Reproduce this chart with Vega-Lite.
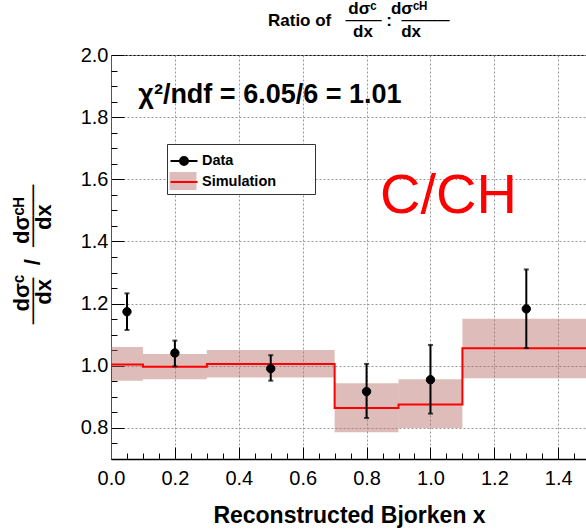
{
  "$schema": "https://vega.github.io/schema/vega-lite/v6.json",
  "width": 476,
  "height": 404,
  "autosize": {"type": "none"},
  "padding": {"left": 111, "top": 55, "right": 0, "bottom": 72},
  "background": "white",
  "config": {"view": {"stroke": "black", "strokeWidth": 1}, "font": "Liberation Sans"},
  "title": {
    "text": [
      "\u200b\u00a0\u00a0\u00a0\u00a0\u00a0\u00a0\u00a0\u00a0\u00a0\u00a0\u00a0\u00a0\u00a0\u00a0\u00a0\u00a0\u00a0dσᶜ\u00a0\u00a0\u00a0dσᶜᴴ",
      "Ratio of\u00a0\u00a0\u00a0───\u00a0:\u00a0\u00a0────",
      "\u200b\u00a0\u00a0\u00a0\u00a0\u00a0\u00a0\u00a0\u00a0\u00a0\u00a0\u00a0\u00a0\u00a0\u00a0\u00a0\u00a0\u00a0\u00a0dx\u00a0\u00a0\u00a0\u00a0\u00a0\u00a0dx"
    ],
    "font": "Liberation Sans",
    "fontWeight": "bold",
    "fontSize": 17,
    "lineHeight": 11.5,
    "anchor": "middle",
    "align": "left",
    "dx": -81,
    "dy": 13,
    "baseline": "alphabetic",
    "color": "black",
    "frame": "group"
  },
  "datasets": {
    "data": [
      {"x": 0.05, "y": 1.174, "lo": 1.115, "hi": 1.233},
      {"x": 0.2, "y": 1.041, "lo": 0.998, "hi": 1.081},
      {"x": 0.5, "y": 0.991, "lo": 0.952, "hi": 1.034},
      {"x": 0.8, "y": 0.917, "lo": 0.832, "hi": 1.006},
      {"x": 1.0, "y": 0.955, "lo": 0.846, "hi": 1.067},
      {"x": 1.3, "y": 1.183, "lo": 1.057, "hi": 1.31}
    ],
    "bins": [
      {"x_lo": 0.0, "x_hi": 0.1, "y": 1.004, "lo": 0.952, "hi": 1.06},
      {"x_lo": 0.1, "x_hi": 0.3, "y": 0.997, "lo": 0.957, "hi": 1.038},
      {"x_lo": 0.3, "x_hi": 0.7, "y": 1.006, "lo": 0.962, "hi": 1.051},
      {"x_lo": 0.7, "x_hi": 0.9, "y": 0.864, "lo": 0.786, "hi": 0.944},
      {"x_lo": 0.9, "x_hi": 1.1, "y": 0.875, "lo": 0.8, "hi": 0.957},
      {"x_lo": 1.1, "x_hi": 1.5, "y": 1.056, "lo": 0.96, "hi": 1.151}
    ],
    "line": [
      {"x": 0.0, "y": 0.7},
      {"x": 0.0, "y": 1.004},
      {"x": 0.1, "y": 0.997},
      {"x": 0.3, "y": 1.006},
      {"x": 0.7, "y": 0.864},
      {"x": 0.9, "y": 0.875},
      {"x": 1.1, "y": 1.056},
      {"x": 1.5, "y": 1.056}
    ],
    "labels": [{"chi": "χ²/ndf = 6.05/6 = 1.01", "tag": "C/CH"}]
  },
  "resolve": {"axis": {"x": "independent", "y": "independent"}},
  "layer": [
    {
      "data": {"name": "bins"},
      "mark": {"type": "rect", "clip": true},
      "encoding": {
        "x": {
          "field": "x_lo", "type": "quantitative",
          "scale": {"domain": [0, 1.49], "nice": false, "zero": false},
          "axis": {
            "orient": "bottom",
            "values": [0, 0.2, 0.4, 0.6, 0.8, 1.0, 1.2, 1.4],
            "tickSize": -12,
            "format": ".1f",
            "grid": true,
            "gridDash": [2, 2],
            "gridColor": "#999999",
            "tickColor": "black",
            "domainColor": "black",
            "domainWidth": 1.5,
            "labelFont": "Liberation Sans",
            "labelFontSize": 20,
            "labelColor": "black",
            "labelPadding": 21,
            "labelFlush": false,
            "labelOverlap": false,
            "title": "Reconstructed Bjorken x",
            "titleFont": "Liberation Sans",
            "titleFontWeight": "bold",
            "titleFontSize": 23,
            "titleColor": "black",
            "titleY": 63,
            "titleBaseline": "alphabetic"
          }
        },
        "x2": {"field": "x_hi"},
        "y": {
          "field": "lo", "type": "quantitative",
          "scale": {"domain": [0.7, 2.0], "nice": false, "zero": false},
          "axis": {
            "orient": "left",
            "values": [0.8, 1.0, 1.2, 1.4, 1.6, 1.8, 2.0],
            "tickSize": -13,
            "format": ".1f",
            "grid": true,
            "gridDash": [2, 2],
            "gridColor": "#999999",
            "tickColor": "black",
            "domainColor": "#555555",
            "labelFont": "Liberation Sans",
            "labelFontSize": 20,
            "labelColor": "black",
            "labelPadding": 16,
            "labelFlush": false,
            "labelOverlap": false,
            "title": [
              "dσᶜ\u00a0\u00a0\u00a0\u00a0\u00a0dσᶜᴴ",
              "───\u00a0\u00a0/\u00a0\u00a0────",
              "dx\u00a0\u00a0\u00a0\u00a0\u00a0\u00a0\u00a0\u00a0dx"
            ],
            "titleFont": "Liberation Sans",
            "titleFontWeight": "bold",
            "titleFontSize": 22,
            "titleLineHeight": 11,
            "titleColor": "black",
            "titleAngle": -90,
            "titleAlign": "center",
            "titleBaseline": "alphabetic",
            "titleX": -83,
            "titleY": 199
          }
        },
        "y2": {"field": "hi"},
        "fill": {
          "datum": "Simulation",
          "scale": {"domain": [" ", "Simulation"], "range": ["rgba(0,0,0,0)", "rgba(179,107,99,0.45)"]},
          "legend": {
            "orient": "none", "legendX": 56, "legendY": 89, "title": null,
            "padding": 4, "symbolSize": 576, "rowPadding": 0, "labelOffset": 5,
            "labelFont": "Liberation Sans", "labelFontWeight": "bold", "labelFontSize": 14.5,
            "labelColor": "transparent",
            "labelExpr": "datum.value === 'Simulation' ? 'Simulation\u00a0\u00a0\u00a0\u00a0\u00a0\u00a0\u00a0\u00a0\u00a0\u200b' : 'Data'",
            "fillColor": "white", "strokeColor": "#333333",
            "symbolStrokeWidth": 0,
            "zindex": 2,
            "encode": {"symbols": {"update": {"shape": {"value": "M-1.125,-0.75H1.125V0.75H-1.125Z"}}}}
          }
        }
      }
    },
    {
      "data": {"name": "line"},
      "mark": {"type": "line", "interpolate": "step-after", "clip": true, "strokeWidth": 2},
      "encoding": {
        "x": {
          "field": "x", "type": "quantitative",
          "axis": {
            "orient": "bottom",
            "values": [0.05, 0.1, 0.15, 0.25, 0.3, 0.35, 0.45, 0.5, 0.55, 0.65, 0.7, 0.75, 0.85, 0.9, 0.95, 1.05, 1.1, 1.15, 1.25, 1.3, 1.35, 1.45],
            "tickSize": -6, "tickColor": "black", "labels": false, "grid": false, "domain": false, "title": null
          }
        },
        "y": {
          "field": "y", "type": "quantitative",
          "axis": {
            "orient": "left",
            "values": [0.75, 0.85, 0.9, 0.95, 1.05, 1.1, 1.15, 1.25, 1.3, 1.35, 1.45, 1.5, 1.55, 1.65, 1.7, 1.75, 1.85, 1.9, 1.95],
            "tickSize": -6, "tickColor": "black", "labels": false, "grid": false, "domain": false, "title": null
          }
        },
        "order": {"value": null},
        "stroke": {
          "datum": "Simulation",
          "scale": {"domain": ["Data", "Simulation"], "range": ["black", "#ff0000"]},
          "legend": {
            "orient": "none", "legendX": 56, "legendY": 89, "title": null,
            "padding": 4, "symbolSize": 576, "rowPadding": 0, "labelOffset": 5,
            "labelFont": "Liberation Sans", "labelFontWeight": "bold", "labelFontSize": 14.5,
            "labelColor": "black",
            "symbolStrokeWidth": 2,
            "zindex": 3,
            "encode": {"symbols": {"update": {
              "shape": {"signal": "datum.value === 'Data' ? 'M-1.125,0H1.125M-0.33,0A0.33,0.33,0,1,0,0.33,0A0.33,0.33,0,1,0,-0.33,0Z' : 'M-1.125,0H1.125'"},
              "fill": {"signal": "datum.value === 'Data' ? 'black' : 'transparent'"}
            }}}
          }
        }
      }
    },
    {
      "data": {"name": "data"},
      "mark": {"type": "errorbar", "ticks": {"size": 5, "thickness": 2, "color": "black"}, "thickness": 2, "color": "black"},
      "encoding": {
        "x": {"field": "x", "type": "quantitative", "axis": null},
        "y": {"field": "lo", "type": "quantitative", "axis": null},
        "y2": {"field": "hi"}
      }
    },
    {
      "data": {"name": "data"},
      "mark": {"type": "point", "shape": "circle", "filled": true, "fill": "black", "size": 70, "strokeWidth": 1, "opacity": 1},
      "encoding": {
        "x": {"field": "x", "type": "quantitative", "axis": null},
        "y": {"field": "y", "type": "quantitative", "axis": null},
        "stroke": {"datum": "Data"}
      }
    },
    {
      "data": {"name": "labels"},
      "mark": {"type": "text", "font": "Liberation Sans", "fontWeight": "bold", "fontSize": 27, "align": "left", "baseline": "alphabetic", "color": "black"},
      "encoding": {
        "text": {"field": "chi"},
        "x": {"datum": 0.0856, "axis": null},
        "y": {"datum": 1.8465, "axis": null}
      }
    },
    {
      "data": {"name": "labels"},
      "mark": {"type": "text", "font": "Liberation Sans", "fontSize": 56, "align": "left", "baseline": "alphabetic", "color": "#ff0000"},
      "encoding": {
        "text": {"field": "tag"},
        "x": {"datum": 0.842, "axis": null},
        "y": {"datum": 1.4916, "axis": null}
      }
    }
  ]
}
